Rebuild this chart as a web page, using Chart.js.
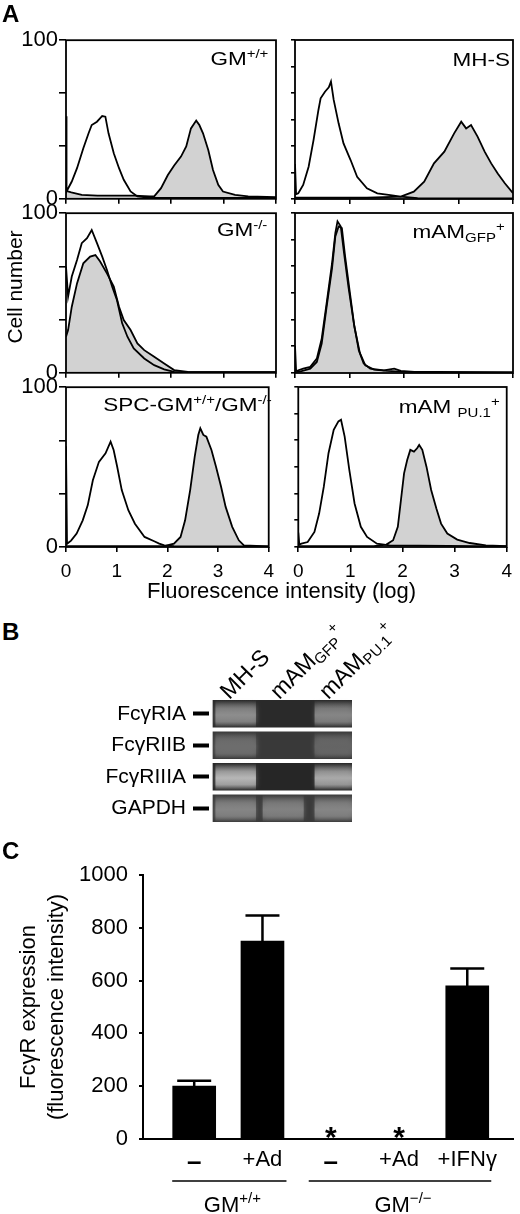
<!DOCTYPE html>
<html>
<head>
<meta charset="utf-8">
<script src="https://cdn.jsdelivr.net/npm/chart.js@4.4.0/dist/chart.umd.min.js"></script>
<style>
body { margin: 0; background: #fff; }
#fig { position: relative; width: 520px; height: 1214px; overflow: hidden; font-family: "Liberation Sans", Arial, sans-serif; color: #000; }
#fig canvas { position: absolute; }
.txt { position: absolute; line-height: 1; white-space: nowrap; }
.big { font-weight: bold; font-size: 24px; }
.lbl { position: absolute; line-height: 1; white-space: nowrap; font-size: 18px; transform: scaleX(1.25); transform-origin: right top; }
.up { position: relative; top: -7px; font-size: 12px; }
.dn { position: relative; top: 4px; font-size: 12px; }
.lane { position: absolute; line-height: 1; white-space: nowrap; font-size: 23px; transform-origin: 0 20px; transform: rotate(-45deg); }
.lane .up { top: -9px; font-size: 15px; }
.lane .dn { top: 4px; font-size: 15px; }
</style>
</head>
<body>
<div id="fig">
  <canvas id="h1" width="282" height="187" style="left:0;top:26px"></canvas>
  <canvas id="h2" width="235" height="187" style="left:285px;top:26px"></canvas>
  <canvas id="h3" width="282" height="188" style="left:0;top:199px"></canvas>
  <canvas id="h4" width="235" height="188" style="left:285px;top:199px"></canvas>
  <canvas id="h5" width="282" height="206" style="left:0;top:373px"></canvas>
  <canvas id="h6" width="235" height="206" style="left:285px;top:373px"></canvas>
  <canvas id="gel" width="360" height="166" style="left:0;top:678px"></canvas>
  <canvas id="bars" width="520" height="374" style="left:0;top:840px"></canvas>

  <div class="txt big" style="left:2px;top:2px">A</div>
  <div class="txt big" style="left:2px;top:620px">B</div>
  <div class="txt big" style="left:2px;top:839px">C</div>

  <div class="txt" style="left:14px;top:287px;font-size:21px;transform:translate(-50%,-50%) rotate(-90deg)">Cell number</div>
  <div class="txt" style="left:147px;top:580px;font-size:22px">Fluorescence intensity (log)</div>

  <div class="lbl" style="right:252px;top:50px">GM<span class="up">+/+</span></div>
  <div class="lbl" style="right:10px;top:51px">MH-S</div>
  <div class="lbl" style="right:253px;top:221px">GM<span class="up">-/-</span></div>
  <div class="lbl" style="right:15px;top:223px">mAM<span class="dn">GFP</span><span class="up">+</span></div>
  <div class="lbl" style="right:248px;top:396px">SPC-GM<span class="up">+/+</span>/GM<span class="up">-/-</span></div>
  <div class="lbl" style="right:20px;top:398px">mAM <span class="dn">PU.1</span><span class="up">+</span></div>

  <div class="lane" style="left:230px;top:681px">MH-S</div>
  <div class="lane" style="left:280px;top:681px">mAM<span class="dn">GFP</span><span class="up">+</span></div>
  <div class="lane" style="left:329px;top:681px">mAM<span class="dn">PU.1</span><span class="up">+</span></div>
</div>

<script>
// ---- panel A: flow histograms, [log intensity, cell number] ----
const histXTicks = [0, 1, 2, 3, 4];
const histYTicks = [0, 16.7, 33.3, 50, 66.7, 83.3, 100];
const histYLabels = ['0', '', '', '', '', '', '100'];

const gmWtCtrl = [[0,52],[0.01,4.6],[0.11,10.9],[0.21,19.3],[0.33,31.9],[0.43,41.3],[0.49,46.5],[0.59,48.6],[0.69,52.2],[0.75,51.8],[0.81,41.3],[0.91,28.7],[1.01,19.3],[1.1,12],[1.23,4.6],[1.36,1.5],[1.6,0.6],[2.2,0.5],[3,0.5],[4,0.5]];
const gmWtStain = [[0,5],[0.1,4],[0.3,2.5],[0.6,2],[1,2],[1.3,2],[1.6,1.5],[1.68,1.5],[1.81,6.7],[1.94,15],[2.06,21],[2.19,26.6],[2.29,33],[2.38,44.4],[2.48,49.3],[2.54,46.5],[2.61,41.3],[2.71,30.8],[2.8,18.2],[2.9,8.8],[2.99,4.6],[3.22,2.5],[3.47,1.5],[4,1]];

const mhsCtrl = [[0,22],[0.02,3],[0.06,3.6],[0.15,8.8],[0.25,20.3],[0.34,37],[0.43,56],[0.47,63.3],[0.55,67.5],[0.62,70.2],[0.66,73.8],[0.71,62.3],[0.8,47.6],[0.89,35],[1.02,24.5],[1.14,14],[1.32,6.7],[1.51,3.6],[1.75,2.5],[1.94,1.5],[2.25,0.6],[4,0.4]];
const mhsStain = [[0,0.8],[1.32,0.8],[1.94,1.5],[2.18,4.6],[2.37,10.9],[2.55,22.4],[2.74,29.8],[2.92,41.3],[3.05,48.6],[3.14,44.4],[3.23,46.5],[3.35,39.2],[3.48,29.8],[3.6,22.4],[3.72,16.1],[3.85,9.9],[4,3.6]];

const gmKoCtrl = [[0,66.5],[0.04,47.7],[0.11,60.3],[0.21,70.7],[0.3,81.2],[0.4,84.3],[0.49,89.5],[0.59,81.2],[0.69,72.8],[0.78,64.4],[0.88,54],[0.97,45.6],[1.07,31],[1.17,22.6],[1.29,15.3],[1.49,9],[1.68,4.8],[1.87,2.1],[2.06,0.6],[4,0.4]];
const gmKoStain = [[0,22.6],[0.04,26.8],[0.11,41.4],[0.21,56],[0.33,68.6],[0.46,72.8],[0.56,73.8],[0.65,69.7],[0.78,62.3],[0.91,54],[1.01,41.4],[1.1,33],[1.23,26.8],[1.36,18.4],[1.49,14.2],[1.68,10],[1.87,5.9],[2.06,1.7],[2.32,0.6],[4,0.4]];

const gfpCtrl = [[0,17],[0.02,1.5],[0.06,1.7],[0.15,2.7],[0.28,3.8],[0.4,9],[0.49,21.5],[0.58,43.5],[0.68,68.6],[0.74,87.4],[0.78,94.8],[0.84,91.6],[0.9,74.9],[0.98,54],[1.08,31],[1.17,14.2],[1.26,5.9],[1.38,2.7],[1.63,1.7],[1.82,2.7],[1.94,1.3],[2.25,0.6],[4,0.4]];
const gfpStain = [[0,0.6],[0.09,0.8],[0.28,2.7],[0.4,6.9],[0.49,18.4],[0.58,41.4],[0.68,65.5],[0.74,85.4],[0.8,91.6],[0.86,90.6],[0.92,72.8],[1,51.9],[1.09,28.9],[1.19,12.6],[1.29,4.8],[1.45,2.1],[1.69,1.3],[1.94,0.8],[4,0.4]];

const spcCtrl = [[0,63],[0.02,2],[0.1,4],[0.21,8.4],[0.33,16.7],[0.43,26.2],[0.53,41.8],[0.65,53.3],[0.78,58.6],[0.88,65.9],[0.94,60.7],[1.01,50.2],[1.1,35.6],[1.23,23],[1.36,14.6],[1.55,6.3],[1.74,3.6],[1.84,2.1],[1.94,1],[2.13,0.6],[4,0.4]];
const spcStain = [[0,0.6],[1.94,0.6],[2.13,2.1],[2.26,6.3],[2.35,16.7],[2.45,35.6],[2.54,56.5],[2.61,70.1],[2.65,74.3],[2.71,70.1],[2.77,69],[2.87,60.7],[2.96,50.2],[3.06,37.7],[3.15,25.1],[3.28,12.6],[3.41,4.2],[3.51,1],[4,0.4]];

const pu1Ctrl = [[0,9],[0.02,1.5],[0.06,2.1],[0.18,3.1],[0.31,9.4],[0.4,20.9],[0.49,37.7],[0.58,58.6],[0.68,73.2],[0.77,78.5],[0.82,79.5],[0.89,69],[0.98,48.1],[1.08,27.2],[1.2,12.6],[1.32,6.3],[1.51,2.1],[1.75,1],[4,0.4]];
const pu1Stain = [[0,0.6],[1.45,0.6],[1.69,1.5],[1.82,4.2],[1.91,12.6],[1.97,29.3],[2.03,46],[2.09,54.4],[2.15,60.7],[2.22,59.6],[2.28,61.7],[2.32,63.8],[2.38,60.7],[2.46,50.2],[2.55,35.6],[2.65,24.1],[2.74,14.6],[2.86,8.4],[3.05,4.6],[3.29,2.5],[3.6,1],[4,0.6]];

// ---- panel B: RT-PCR gel, band brightness 0..1 per lane ----
const gelGenes = ['FcγRIA', 'FcγRIIB', 'FcγRIIIA', 'GAPDH'];
const gelLanes = ['MH-S', 'mAM GFP+', 'mAM PU.1+'];
const laneLeft = [0.06, 1.08, 2.2];
const laneRight = [0.92, 1.95, 3.0];
const bandsMhs = [0.55, 0.36, 0.8, 0.5];
const bandsGfp = [0, 0, 0, 0.48];
const bandsPu1 = [0.5, 0.3, 0.72, 0.5];
const gelRowShade = ['#2a2a2a', '#393939', '#262626', '#3a3a3a'];

// ---- panel C: bar chart ----
const barCats = ['–', '+Ad', '–', '+Ad', '+IFNγ'];
const barVals = [200, 750, 0, 0, 580];
const barErr = [21, 97, 0, 0, 66];
const barSig = [false, false, true, true, false];
const barYTicks = [0, 200, 400, 600, 800, 1000];
const barYTitle = ['FcγR expression', '(fluorescence intensity)'];
const groupName = ['GM', 'GM'];
const groupSup = ['+/+', '−/−'];
const groupFrom = [0, 2];
const groupTo = [1, 4];

const frame = {
  id: 'frame',
  afterDatasetsDraw(chart) {
    const a = chart.chartArea, c = chart.ctx;
    c.save();
    c.strokeStyle = '#000';
    c.lineWidth = 1.8;
    c.strokeRect(a.left, a.top, a.right - a.left, a.bottom - a.top);
    c.restore();
  }
};

function pts(arr) {
  return arr.map(p => ({ x: p[0], y: p[1] }));
}

function histChart(id, ctrl, stain, leftCol, bottomRow) {
  new Chart(document.getElementById(id), {
    type: 'line',
    data: {
      datasets: [
        { data: pts(ctrl), borderColor: '#000', borderWidth: 1.8, fill: false, pointRadius: 0, tension: 0 },
        { data: pts(stain), borderColor: '#000', borderWidth: 1.8, backgroundColor: '#d2d2d2', fill: 'origin', pointRadius: 0, tension: 0 }
      ]
    },
    options: {
      responsive: false,
      animation: false,
      events: [],
      plugins: { legend: { display: false }, tooltip: { enabled: false } },
      layout: { padding: { top: 14, right: leftCol ? 6 : 7, bottom: bottomRow ? 0 : 8 } },
      scales: {
        x: {
          type: 'linear', min: 0, max: 4,
          afterBuildTicks: s => { s.ticks = histXTicks.map(v => ({ value: v })); },
          afterFit: s => { s.height = bottomRow ? 32 : 6; },
          ticks: { display: bottomRow, font: { size: 19 }, color: '#000', padding: 8, maxRotation: 0 },
          grid: { drawOnChartArea: false, tickLength: 5, color: '#000', lineWidth: 1.6 },
          border: { display: false }
        },
        y: {
          min: 0, max: 100,
          afterBuildTicks: s => { s.ticks = histYTicks.map(v => ({ value: v })); },
          afterFit: s => { s.width = leftCol ? 66 : 10; },
          ticks: { display: leftCol, font: { size: 22 }, color: '#000', padding: 1, callback: (v, i) => histYLabels[i] },
          grid: { drawOnChartArea: false, tickLength: leftCol ? 7 : 4, color: '#000', lineWidth: 1.6 },
          border: { display: false }
        }
      }
    },
    plugins: [frame]
  });
}

histChart('h1', gmWtCtrl, gmWtStain, true, false);
histChart('h2', mhsCtrl, mhsStain, false, false);
histChart('h3', gmKoCtrl, gmKoStain, true, false);
histChart('h4', gfpCtrl, gfpStain, false, false);
histChart('h5', spcCtrl, spcStain, true, true);
histChart('h6', pu1Ctrl, pu1Stain, false, true);

// gel
function grey(v, a) {
  const g = Math.round(50 + v * 165);
  return 'rgba(' + g + ',' + g + ',' + g + ',' + a + ')';
}

// soft vertical band profile, built on the category position of each row
function bandFill(lane) {
  return (c) => {
    const v = laneBands[lane][c.dataIndex];
    const ch = c.chart;
    if (!ch.chartArea) return grey(v, 1);
    const yc = ch.scales.y.getPixelForValue(c.dataIndex);
    const g = ch.ctx.createLinearGradient(0, yc - 13, 0, yc + 13);
    g.addColorStop(0, grey(v, 0.05));
    g.addColorStop(0.3, grey(v, 0.7));
    g.addColorStop(0.55, grey(v, 1));
    g.addColorStop(0.8, grey(v, 0.75));
    g.addColorStop(1, grey(v, 0.1));
    return g;
  };
}

const glow = {
  id: 'glow',
  beforeDatasetDraw(chart, args) {
    if (chart.data.datasets[args.index].glow) {
      chart.ctx.save();
      chart.ctx.shadowColor = 'rgba(150,150,150,0.6)';
      chart.ctx.shadowBlur = 5;
    }
  },
  afterDatasetDraw(chart, args) {
    if (chart.data.datasets[args.index].glow) chart.ctx.restore();
  }
};

const laneBands = [bandsMhs, bandsGfp, bandsPu1];
const gelSets = gelLanes.map((lane, i) => ({
  label: lane,
  data: laneBands[i].map(v => v > 0 ? [laneLeft[i], laneRight[i]] : null),
  backgroundColor: bandFill(i),
  barThickness: 26,
  order: 1,
  glow: true
}));
gelSets.push({
  label: 'gel',
  data: gelGenes.map(() => [0, 3]),
  backgroundColor: gelRowShade,
  barThickness: 27,
  order: 2
});

new Chart(document.getElementById('gel'), {
  type: 'bar',
  data: { labels: gelGenes, datasets: gelSets },
  options: {
    indexAxis: 'y',
    responsive: false,
    animation: false,
    events: [],
    datasets: { bar: { grouped: false } },
    plugins: { legend: { display: false }, tooltip: { enabled: false } },
    layout: { padding: { top: 20, right: 8, bottom: 20 } },
    scales: {
      x: { type: 'linear', min: -0.086, max: 3, display: false },
      y: {
        afterFit: s => { s.width = 209; },
        ticks: { font: { size: 21 }, color: '#000', padding: 7 },
        grid: { offset: false, drawOnChartArea: false, tickLength: 16, tickWidth: 4, tickColor: '#000' },
        border: { display: false }
      }
    }
  },
  plugins: [glow]
});

// bar chart
const errorBars = {
  id: 'errorBars',
  afterDatasetsDraw(chart) {
    const xs = chart.scales.x, ys = chart.scales.y, c = chart.ctx;
    c.save();
    c.strokeStyle = '#000';
    c.lineWidth = 2.5;
    barVals.forEach((v, i) => {
      if (!barErr[i]) return;
      const x = xs.getPixelForValue(i);
      const y0 = ys.getPixelForValue(v);
      const y1 = ys.getPixelForValue(v + barErr[i]);
      c.beginPath();
      c.moveTo(x, y0);
      c.lineTo(x, y1);
      c.moveTo(x - 17, y1);
      c.lineTo(x + 17, y1);
      c.stroke();
    });
    c.restore();
  }
};

const stars = {
  id: 'stars',
  afterDatasetsDraw(chart) {
    const xs = chart.scales.x, ys = chart.scales.y, c = chart.ctx;
    c.save();
    c.fillStyle = '#000';
    c.font = 'bold 30px "Liberation Sans", Arial, sans-serif';
    c.textAlign = 'center';
    c.textBaseline = 'alphabetic';
    barSig.forEach((s, i) => {
      if (s) c.fillText('*', xs.getPixelForValue(i), ys.getPixelForValue(barVals[i]) + 8);
    });
    c.restore();
  }
};

const groups = {
  id: 'groups',
  afterDraw(chart) {
    const xs = chart.scales.x, ys = chart.scales.y, c = chart.ctx;
    const base = ys.getPixelForValue(0);
    c.save();
    c.strokeStyle = '#000';
    c.fillStyle = '#000';
    c.lineWidth = 1.5;
    groupName.forEach((g, i) => {
      const x0 = xs.getPixelForValue(groupFrom[i]) - 22;
      const x1 = xs.getPixelForValue(groupTo[i]) + 24;
      c.beginPath();
      c.moveTo(x0, base + 42);
      c.lineTo(x1, base + 42);
      c.stroke();
      const mid = (xs.getPixelForValue(groupFrom[i]) + xs.getPixelForValue(groupTo[i])) / 2 + 4;
      c.font = '22px "Liberation Sans", Arial, sans-serif';
      const w1 = c.measureText(g).width;
      c.font = '15px "Liberation Sans", Arial, sans-serif';
      const w2 = c.measureText(groupSup[i]).width;
      const left = mid - (w1 + w2) / 2;
      c.textAlign = 'left';
      c.textBaseline = 'alphabetic';
      c.font = '22px "Liberation Sans", Arial, sans-serif';
      c.fillText(g, left, base + 73);
      c.font = '15px "Liberation Sans", Arial, sans-serif';
      c.fillText(groupSup[i], left + w1, base + 64);
    });
    c.restore();
  }
};

new Chart(document.getElementById('bars'), {
  type: 'bar',
  data: {
    datasets: [{
      data: barVals.map((v, i) => ({ x: i, y: v })),
      backgroundColor: '#000',
      barThickness: 43
    }]
  },
  options: {
    responsive: false,
    animation: false,
    events: [],
    plugins: { legend: { display: false }, tooltip: { enabled: false } },
    layout: { padding: { top: 35, right: 7 } },
    scales: {
      x: {
        type: 'linear', min: -0.75, max: 4.67, offset: false,
        afterBuildTicks: s => { s.ticks = barCats.map((c, i) => ({ value: i })); },
        afterFit: s => { s.height = 75; },
        ticks: {
          callback: v => barCats[v],
          font: ctx => barCats[ctx.index] === '–' ? { size: 26, weight: 'bold' } : { size: 22 },
          color: '#000', padding: 8, maxRotation: 0, autoSkip: false
        },
        grid: { display: false, drawTicks: false },
        border: { display: true, color: '#000', width: 2 }
      },
      y: {
        min: 0, max: 1000,
        afterBuildTicks: s => { s.ticks = barYTicks.map(v => ({ value: v })); },
        afterFit: s => { s.width = 143; },
        ticks: { font: { size: 22 }, color: '#000', padding: 11, callback: v => String(v) },
        grid: { drawOnChartArea: false, tickLength: 4, color: '#000', lineWidth: 2 },
        border: { color: '#000', width: 2 },
        title: { display: true, text: barYTitle, font: { size: 22, lineHeight: 1.27 }, color: '#000', padding: { top: 15, bottom: 0 } }
      }
    }
  },
  plugins: [errorBars, stars, groups]
});
</script>
</body>
</html>
